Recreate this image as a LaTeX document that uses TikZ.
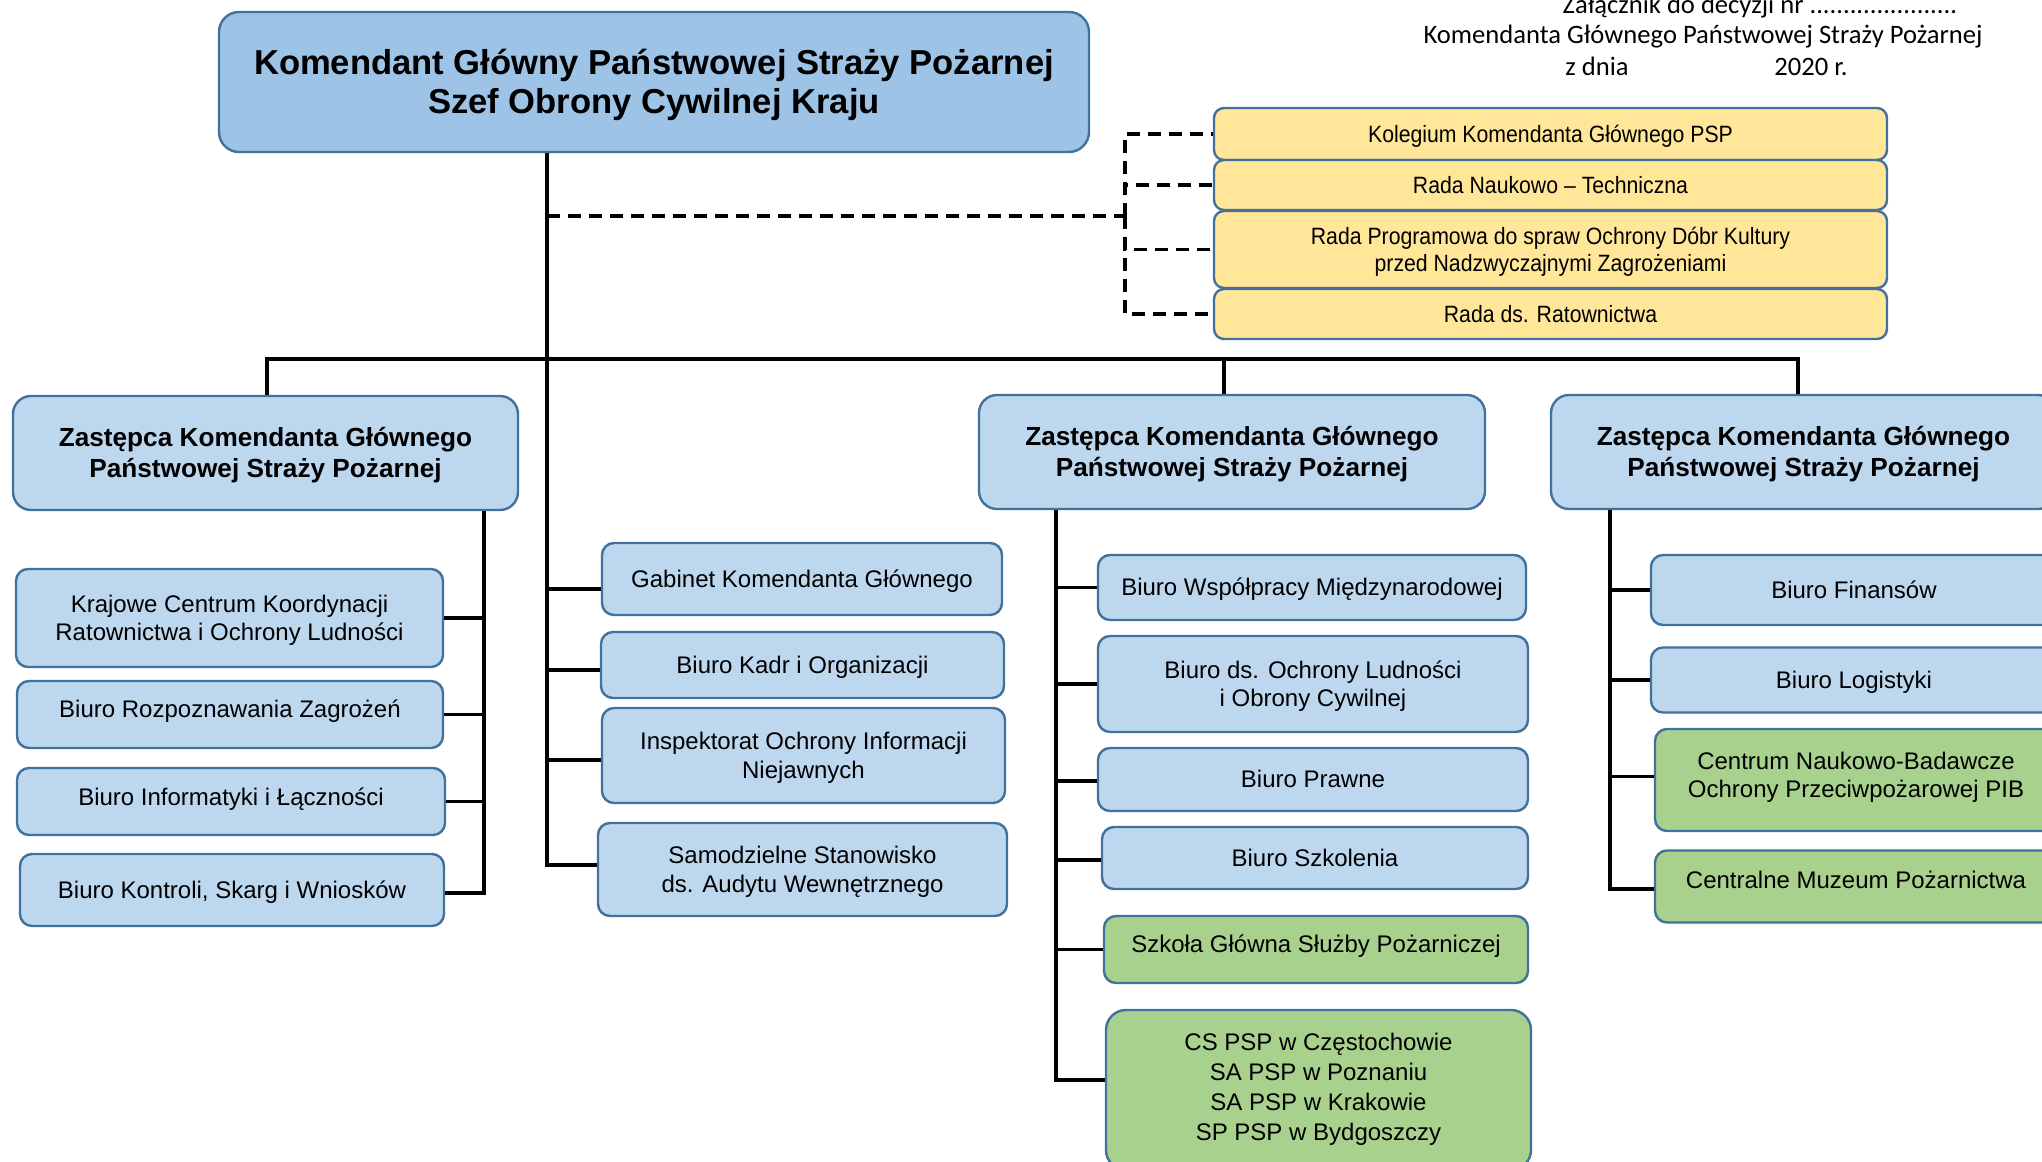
\documentclass[tikz,border=0pt]{standalone}
\usepackage{fontspec}
\setmainfont{Liberation Sans}
\newfontfamily\carl{Carlito}
\newfontfamily\narr[FakeStretch=0.9]{Liberation Sans}
\newcommand\ls{\rule[-0.212em]{0pt}{1.117em}}
\definecolor{bordc}{HTML}{41719C}
\definecolor{boxblue}{HTML}{BDD7EE}
\definecolor{mainblue}{HTML}{9DC3E6}
\definecolor{yel}{HTML}{FFE699}
\definecolor{grn}{HTML}{A9D18E}
\tikzset{
 basebox/.style={draw=bordc, line width=1.2pt, align=center, inner sep=0pt, rounded corners=6pt},
 sz/.style 2 args={minimum width=#1pt, minimum height=#2pt},
 bluebox/.style={basebox, fill=boxblue, font=\fontsize{12}{14.3}\selectfont},
 grnbox/.style={basebox, fill=grn, font=\fontsize{12}{14.3}\selectfont},
 depbox/.style={basebox, fill=boxblue, rounded corners=9pt, font=\bfseries\fontsize{13.1}{15.5}\selectfont},
 mainbox/.style={basebox, fill=mainblue, rounded corners=10pt, font=\bfseries\fontsize{17.3}{19.75}\selectfont},
 yelbox/.style={basebox, fill=yel, rounded corners=5pt, font=\narr\fontsize{11.8}{13.5}\selectfont},
 hdr/.style={font=\carl\fontsize{13.3}{15.5}\selectfont, inner sep=0pt},
 conn/.style={line width=1.8pt},
 dconn/.style={line width=1.8pt, dash pattern=on 6.5pt off 4pt},
}
\begin{document}
\begin{tikzpicture}[x=0.5pt, y=-0.5pt]
\useasboundingbox[fill=white] (0,0) rectangle (2042,1162);

% header text
\node[hdr, anchor=base] (zal) at (1760,13) {Załącznik do decyzji nr ......................};
\node[hdr, anchor=base] (kgp) at (1703,43) {Komendanta Głównego Państwowej Straży Pożarnej};
\node[hdr, anchor=base west] (zd) at (1565,75) {z dnia};
\node[hdr, anchor=base west] (rok) at (1774,75) {2020 r.};

% main
\node[mainbox, sz={435}{70}] (main) at (654,82) {\ls Komendant Główny Państwowej Straży Pożarnej\\Szef Obrony Cywilnej Kraju\ls};

% yellow
\node[yelbox, sz={336.5}{26}] (y1) at (1550.5,134) {\ls Kolegium Komendanta Głównego PSP\ls};
\node[yelbox, sz={336.5}{25}] (y2) at (1550.5,185) {\ls Rada Naukowo – Techniczna\ls};
\node[yelbox, sz={336.5}{38.5}] (y3) at (1550.5,249.5) {\ls Rada Programowa do spraw Ochrony Dóbr Kultury\\przed Nadzwyczajnymi Zagrożeniami\ls};
\node[yelbox, sz={336.5}{25}] (y4) at (1550.5,314) {\ls Rada ds. Ratownictwa\ls};

% deputies
\node[depbox, sz={252.5}{57}] (dL) at (265.5,453) {\ls Zastępca Komendanta Głównego\\Państwowej Straży Pożarnej\ls};
\node[depbox, sz={253}{57}] (dM) at (1232,452) {\ls Zastępca Komendanta Głównego\\Państwowej Straży Pożarnej\ls};
\node[depbox, sz={252.5}{57}] (dR) at (1803.5,452) {\ls Zastępca Komendanta Głównego\\Państwowej Straży Pożarnej\ls};

% left column
\node[bluebox, sz={213.5}{49}] (kc) at (229.5,618) {\ls Krajowe Centrum Koordynacji\\Ratownictwa i Ochrony Ludności\ls};
\node[bluebox, sz={213}{33.5}] (br) at (230,714.5) {\ls Biuro Rozpoznawania Zagrożeń\ls\rule[-8pt]{0pt}{0pt}};
\node[bluebox, sz={214}{33.5}] (bi) at (231,801.5) {\ls Biuro Informatyki i Łączności\ls\rule[-6.5pt]{0pt}{0pt}};
\node[bluebox, sz={212}{36}] (bk) at (232,890) {\ls Biuro Kontroli, Skarg i Wniosków\ls};

% centre column
\node[bluebox, sz={200}{36}] (gab) at (802,579) {\ls Gabinet Komendanta Głównego\ls};
\node[bluebox, sz={201.5}{33}] (kadr) at (802.5,665) {\ls Biuro Kadr i Organizacji\ls};
\node[bluebox, sz={201.5}{47.5}] (insp) at (803.5,755.5) {\ls Inspektorat Ochrony Informacji\\Niejawnych\ls};
\node[bluebox, sz={204.5}{46.5}] (samo) at (802.5,869.5) {\ls Samodzielne Stanowisko\\ds. Audytu Wewnętrznego\ls};

% middle column
\node[bluebox, sz={214}{32.5}] (bw) at (1312,587.5) {\ls Biuro Współpracy Międzynarodowej\ls};
\node[bluebox, sz={215}{48}] (bo) at (1313,684) {\ls Biuro ds. Ochrony Ludności\\i Obrony Cywilnej\ls};
\node[bluebox, sz={215}{31.5}] (bp) at (1313,779.5) {\ls Biuro Prawne\ls};
\node[bluebox, sz={213}{31}] (bs) at (1315,858) {\ls Biuro Szkolenia\ls};
\node[grnbox, sz={212}{33.5}] (sg) at (1316,949.5) {\ls Szkoła Główna Służby Pożarniczej\ls\rule[-8.2pt]{0pt}{0pt}};
\node[grnbox, sz={212.5}{80}, rounded corners=10pt, font=\fontsize{12}{15}\selectfont] (cs) at (1318.5,1090) {\ls CS PSP w Częstochowie\\SA PSP w Poznaniu\\SA PSP w Krakowie\\SP PSP w Bydgoszczy\ls\rule[-5.5pt]{0pt}{0pt}};

% right column
\node[bluebox, sz={203}{35}] (bf) at (1854,590) {\ls Biuro Finansów\ls};
\node[bluebox, sz={203}{32.5}] (bl) at (1854,680) {\ls Biuro Logistyki\ls};
\node[grnbox, sz={201}{51}, font=\fontsize{12}{14}\selectfont] (cn) at (1856,780) {\ls Centrum Naukowo-Badawcze\\Ochrony Przeciwpożarowej PIB\ls\rule[-7.5pt]{0pt}{0pt}};
\node[grnbox, sz={201}{36}] (cm) at (1856,886.5) {\ls Centralne Muzeum Pożarnictwa\ls\rule[-9pt]{0pt}{0pt}};

% trunk and bus
\coordinate (tk) at (547,359);
\draw[conn] (main.south -| tk) -- ([yshift=2.25pt]samo.west -| tk) -- ([yshift=2.25pt]samo.west);
\draw[conn] ([yshift=-5pt]gab.west -| tk) -- ([yshift=-5pt]gab.west);
\draw[conn] ([yshift=-2.5pt]kadr.west -| tk) -- ([yshift=-2.5pt]kadr.west);
\draw[conn] ([yshift=-2.25pt]insp.west -| tk) -- ([yshift=-2.25pt]insp.west);
\draw[conn] ([xshift=0.75pt]dL.north) -- ([xshift=0.75pt]dL.north |- tk) -- ([xshift=-2.75pt]dR.north |- tk) -- ([xshift=-2.75pt]dR.north);
\draw[conn] ([xshift=-4pt]dM.north) -- ([xshift=-4pt]dM.north |- tk);

% dashed to councils
\coordinate (dj) at (1125,216);
\draw[dconn] (tk |- dj) -- (dj);
\draw[dconn] (dj) |- (y1.west);
\draw[dconn] (dj) |- (y2.west);
\draw[dconn] (dj) |- (y3.west);
\draw[dconn] (dj) |- (y4.west);

% left column lines
\coordinate (lc) at (484,0);
\draw[conn] (dL.south -| lc) -- ([yshift=-1.5pt]bk.east -| lc) -- ([yshift=-1.5pt]bk.east);
\draw[conn] (kc.east -| lc) -- (kc.east);
\draw[conn] (br.east -| lc) -- (br.east);
\draw[conn] (bi.east -| lc) -- (bi.east);

% middle column lines
\coordinate (mc) at (1056,0);
\draw[conn] (dM.south -| mc) -- ([yshift=5pt]cs.west -| mc) -- ([yshift=5pt]cs.west);
\draw[conn] (bw.west -| mc) -- (bw.west);
\draw[conn] (bo.west -| mc) -- (bo.west);
\draw[conn] ([yshift=-0.75pt]bp.west -| mc) -- ([yshift=-0.75pt]bp.west);
\draw[conn] ([yshift=-1pt]bs.west -| mc) -- ([yshift=-1pt]bs.west);
\draw[conn] (sg.west -| mc) -- (sg.west);

% right column lines
\coordinate (rc) at (1610,0);
\draw[conn] (dR.south -| rc) -- ([yshift=-1.25pt]cm.west -| rc) -- ([yshift=-1.25pt]cm.west);
\draw[conn] (bf.west -| rc) -- (bf.west);
\draw[conn] (bl.west -| rc) -- (bl.west);
\draw[conn] ([yshift=1.75pt]cn.west -| rc) -- ([yshift=1.75pt]cn.west);
\end{tikzpicture}
\end{document}
